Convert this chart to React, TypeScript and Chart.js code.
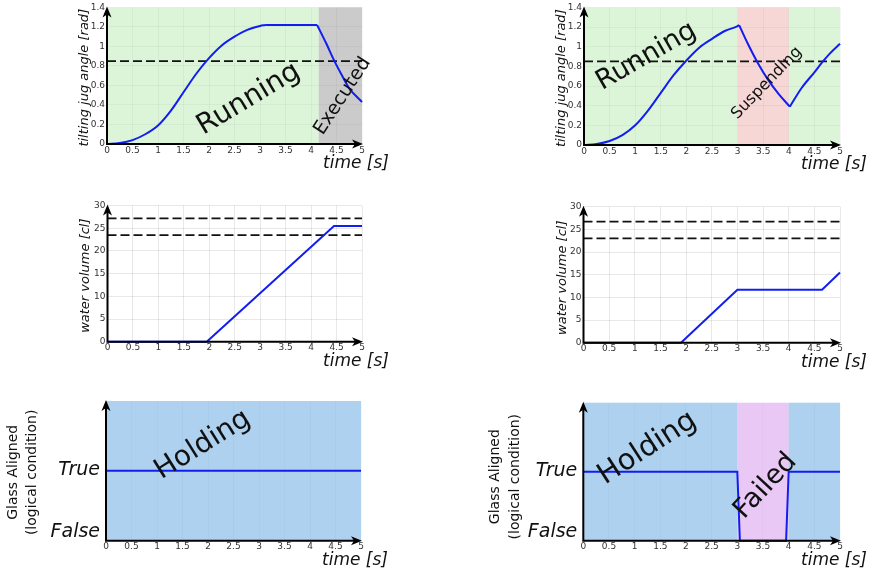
import React, { useEffect, useRef } from "react";
import { Chart, registerables } from "chart.js";

Chart.register(...registerables);

const FIG_W = 874;
const FIG_H = 573;
const FONT = "'DejaVu Sans', 'Liberation Sans', sans-serif";
const BLUE = "rgb(18,30,240)";

// ---------------- data ----------------
const timeTicks = [0, 0.5, 1, 1.5, 2, 2.5, 3, 3.5, 4, 4.5, 5];
const angleTicks = [0, 0.2, 0.4, 0.6, 0.8, 1, 1.2, 1.4];
const volumeTicks = [0, 5, 10, 15, 20, 25, 30];
const logicTicks = [0, 1];
const logicLabels = ["False", "True"];

// tilting angle, left scenario (Executed)
const angleRiseTimeA = [0, 0.25, 0.5, 0.75, 1, 1.25, 1.5, 1.75, 2, 2.25, 2.5, 2.75, 3, 3.1];
const angleRiseValuesA = [0, 0.01, 0.04, 0.1, 0.19, 0.34, 0.53, 0.72, 0.88, 1.01, 1.1, 1.17, 1.21, 1.22];
const angleHoldTimeA = [3.1, 4.12];
const angleHoldValuesA = [1.22, 1.22];
const angleFallTimeA = [4.12, 4.3, 4.45, 4.6, 4.75, 5];
const angleFallValuesA = [1.22, 1.03, 0.86, 0.71, 0.57, 0.43];
const angleThresholdA = [0.85];

// tilting angle, right scenario (Suspending)
const angleRiseTimeB = [0, 0.25, 0.5, 0.75, 1, 1.25, 1.5, 1.75, 2, 2.25, 2.5, 2.75, 3, 3.03];
const angleRiseValuesB = [0, 0.01, 0.04, 0.1, 0.2, 0.35, 0.53, 0.71, 0.86, 0.99, 1.08, 1.16, 1.21, 1.22];
const angleFallTimeB = [3.03, 3.2, 3.4, 3.6, 3.8, 4.02];
const angleFallValuesB = [1.22, 1.03, 0.83, 0.66, 0.52, 0.39];
const angleResumeTimeB = [4.02, 4.25, 4.5, 4.65, 4.8, 5];
const angleResumeValuesB = [0.39, 0.58, 0.74, 0.84, 0.93, 1.03];
const angleThresholdB = [0.85];

// water volume
const volumeTimeA = [0, 1.95, 4.45, 5];
const volumeValuesA = [0, 0, 25.5, 25.5];
const volumeLimitsA = [27.2, 23.5];
const volumeTimeB = [0, 1.9, 3.0, 4.65, 5];
const volumeValuesB = [0, 0, 11.7, 11.7, 15.5];
const volumeLimitsB = [26.7, 23.0];

// glass aligned (1 = True, 0 = False)
const glassTimeA = [0, 5];
const glassValuesA = [1, 1];
const glassTimeB = [0, 3.0, 3.05, 3.95, 4.0, 5];
const glassValuesB = [1, 1, 0, 0, 1, 1];

// phases
const phaseStartA = [0, 4.15];
const phaseEndA = [4.15, 5];
const phaseNameA = ["Running", "Executed"];
const phaseStartB = [0, 3.0, 4.0];
const phaseEndB = [3.0, 4.0, 5];
const phaseNameB = ["Running", "Suspending", ""];
const holdStartA = [0];
const holdEndA = [5];
const holdNameA = ["Holding"];
const holdStartB = [0, 3.0, 4.0];
const holdEndB = [3.0, 4.0, 5];
const holdNameB = ["Holding", "Failed", ""];

// ---------------- helpers ----------------
const zip = (xs: number[], ys: number[]) => xs.map((x, i) => ({ x, y: ys[i] }));

type TextSpec = { text: string; x: number; y: number; size: number; angle: number };
type Panel = {
  box: { left: number; top: number; right: number; bottom: number };
  yMin: number;
  yMax: number;
  yTicks: number[];
  logic?: boolean;
  series: { x: number[]; y: number[]; smooth?: boolean }[];
  dashed: number[];
  phases: { from: number; to: number; color: string }[];
  texts: TextSpec[];
  yTitle: string[];
  yTitleDx: number[];
  yTitleDy: number;
  yTitleFont: string;
  gridColor: string;
  yGrid: boolean;
};

const GREEN = "#dcf5d9";
const GREY = "#cbcbcb";
const PINK = "#f7d6d6";
const SKY = "#aed1f0";
const VIOLET = "#e9c8f5";

const makePhases = (s: number[], e: number[], colors: string[]) =>
  s.map((v, i) => ({ from: v, to: e[i], color: colors[i] }));

const panels: Panel[] = [
  {
    box: { left: 107, top: 5, right: 362, bottom: 144 },
    yMin: 0, yMax: 1.4, yTicks: angleTicks,
    series: [
      { x: angleRiseTimeA, y: angleRiseValuesA, smooth: true },
      { x: angleHoldTimeA, y: angleHoldValuesA },
      { x: angleFallTimeA, y: angleFallValuesA, smooth: true },
    ],
    dashed: angleThresholdA,
    phases: makePhases(phaseStartA, phaseEndA, [GREEN, GREY]),
    texts: [
      { text: phaseNameA[0], x: 2.78, y: 0.46, size: 28, angle: -31 },
      { text: phaseNameA[1], x: 4.62, y: 0.49, size: 19, angle: -57 },
    ],
    yTitle: ["tilting jug angle [rad]"], yTitleDx: [-22], yTitleDy: 2,
    yTitleFont: `italic 13px ${FONT}`, gridColor: "rgba(0,0,0,0.04)", yGrid: true,
  },
  {
    box: { left: 584, top: 6.5, right: 840, bottom: 145 },
    yMin: 0, yMax: 1.4, yTicks: angleTicks,
    series: [
      { x: angleRiseTimeB, y: angleRiseValuesB, smooth: true },
      { x: angleFallTimeB, y: angleFallValuesB, smooth: true },
      { x: angleResumeTimeB, y: angleResumeValuesB, smooth: true },
    ],
    dashed: angleThresholdB,
    phases: makePhases(phaseStartB, phaseEndB, [GREEN, PINK, GREEN]),
    texts: [
      { text: phaseNameB[0], x: 1.22, y: 0.9, size: 27, angle: -30 },
      { text: phaseNameB[1], x: 3.57, y: 0.63, size: 16, angle: -46 },
    ],
    yTitle: ["tilting jug angle [rad]"], yTitleDx: [-22], yTitleDy: 2,
    yTitleFont: `italic 13px ${FONT}`, gridColor: "rgba(0,0,0,0.04)", yGrid: true,
  },
  {
    box: { left: 107.5, top: 205.6, right: 362, bottom: 341.7 },
    yMin: 0, yMax: 30, yTicks: volumeTicks,
    series: [{ x: volumeTimeA, y: volumeValuesA }],
    dashed: volumeLimitsA,
    phases: [],
    texts: [],
    yTitle: ["water volume [cl]"], yTitleDx: [-21.5], yTitleDy: 2,
    yTitleFont: `italic 13px ${FONT}`, gridColor: "rgba(0,0,0,0.09)", yGrid: true,
  },
  {
    box: { left: 583.5, top: 206.7, right: 840, bottom: 342.7 },
    yMin: 0, yMax: 30, yTicks: volumeTicks,
    series: [{ x: volumeTimeB, y: volumeValuesB }],
    dashed: volumeLimitsB,
    phases: [],
    texts: [],
    yTitle: ["water volume [cl]"], yTitleDx: [-20.5], yTitleDy: 3,
    yTitleFont: `italic 13px ${FONT}`, gridColor: "rgba(0,0,0,0.09)", yGrid: true,
  },
  {
    box: { left: 106, top: 401, right: 361, bottom: 540.7 },
    yMin: 0, yMax: 2, yTicks: logicTicks, logic: true,
    series: [{ x: glassTimeA, y: glassValuesA }],
    dashed: [],
    phases: makePhases(holdStartA, holdEndA, [SKY]),
    texts: [{ text: holdNameA[0], x: 1.9, y: 1.37, size: 28, angle: -32 }],
    yTitle: ["Glass Aligned", "(logical condition)"], yTitleDx: [-93, -74], yTitleDy: 1.5,
    yTitleFont: `14px ${FONT}`, gridColor: "rgba(0,0,0,0.025)", yGrid: false,
  },
  {
    box: { left: 583.3, top: 402.7, right: 840, bottom: 540.7 },
    yMin: 0, yMax: 2, yTicks: logicTicks, logic: true,
    series: [{ x: glassTimeB, y: glassValuesB }],
    dashed: [],
    phases: makePhases(holdStartB, holdEndB, [SKY, VIOLET, SKY]),
    texts: [
      { text: holdNameB[0], x: 1.25, y: 1.34, size: 29, angle: -33 },
      { text: holdNameB[1], x: 3.55, y: 0.79, size: 27, angle: -47 },
    ],
    yTitle: ["Glass Aligned", "(logical condition)"], yTitleDx: [-88, -68], yTitleDy: 5,
    yTitleFont: `14px ${FONT}`, gridColor: "rgba(0,0,0,0.025)", yGrid: false,
  },
];

// ---------------- plugin ----------------
function arrowHead(ctx: CanvasRenderingContext2D, tx: number, ty: number, dir: "right" | "up") {
  ctx.beginPath();
  if (dir === "right") {
    ctx.moveTo(tx, ty);
    ctx.lineTo(tx - 11, ty - 4.5);
    ctx.lineTo(tx - 8, ty);
    ctx.lineTo(tx - 11, ty + 4.5);
  } else {
    ctx.moveTo(tx, ty);
    ctx.lineTo(tx - 4.5, ty + 11);
    ctx.lineTo(tx, ty + 8);
    ctx.lineTo(tx + 4.5, ty + 11);
  }
  ctx.closePath();
  ctx.fill();
}

const decorPlugin = {
  id: "decor",
  beforeDraw(chart: any, _args: any, opts: any) {
    const { ctx, chartArea: a } = chart;
    const xs = chart.scales.x;
    ctx.save();
    for (const ph of opts.phases || []) {
      const x0 = xs.getPixelForValue(ph.from);
      const x1 = xs.getPixelForValue(ph.to);
      ctx.fillStyle = ph.color;
      ctx.fillRect(x0, a.top, x1 - x0, a.bottom - a.top);
    }
    ctx.restore();
  },
  afterDraw(chart: any, _args: any, opts: any) {
    const { ctx, chartArea: a } = chart;
    const xs = chart.scales.x;
    const ys = chart.scales.y;
    ctx.save();
    // region labels
    ctx.fillStyle = "#111";
    ctx.textAlign = "center";
    ctx.textBaseline = "middle";
    for (const t of opts.texts || []) {
      ctx.save();
      ctx.translate(xs.getPixelForValue(t.x), ys.getPixelForValue(t.y));
      ctx.rotate((t.angle * Math.PI) / 180);
      ctx.font = `${t.size}px ${FONT}`;
      ctx.fillText(t.text, 0, 0);
      ctx.restore();
    }
    // axes with arrows
    ctx.strokeStyle = "#000";
    ctx.fillStyle = "#000";
    ctx.lineWidth = 2;
    ctx.beginPath();
    ctx.moveTo(a.left - 1, a.bottom);
    ctx.lineTo(a.right - 3, a.bottom);
    ctx.moveTo(a.left, a.bottom + 1);
    ctx.lineTo(a.left, a.top + 3);
    ctx.stroke();
    arrowHead(ctx, a.right + 1, a.bottom, "right");
    arrowHead(ctx, a.left, a.top - 1, "up");
    // x title
    ctx.fillStyle = "#111";
    ctx.font = `italic 17px ${FONT}`;
    ctx.textAlign = "left";
    ctx.textBaseline = "middle";
    ctx.fillText("time [s]", a.right - 39, a.bottom + 20);
    // y title
    ctx.font = opts.yTitleFont;
    ctx.textAlign = "center";
    const cy = (a.top + a.bottom) / 2 + opts.yTitleDy;
    opts.yTitle.forEach((line: string, i: number) => {
      ctx.save();
      ctx.translate(a.left + opts.yTitleDx[i], cy);
      ctx.rotate(-Math.PI / 2);
      ctx.fillText(line, 0, 0);
      ctx.restore();
    });
    // logic tick labels
    if (opts.logic) {
      ctx.font = `italic 19px ${FONT}`;
      ctx.textAlign = "right";
      logicTicks.forEach((v, i) => {
        const dy = v === 0 ? -9 : -1;
        ctx.fillText(logicLabels[i], a.left - 6, ys.getPixelForValue(v) + dy);
      });
    }
    ctx.restore();
  },
};

function buildConfig(p: Panel): any {
  const datasets: any[] = [];
  p.series.forEach((s) => {
    datasets.push({
      data: zip(s.x, s.y),
      borderColor: BLUE,
      borderWidth: 2,
      pointRadius: 0,
      fill: false,
      tension: 0,
      cubicInterpolationMode: s.smooth ? "monotone" : "default",
      clip: 3,
    });
  });
  p.dashed.forEach((v) => {
    datasets.push({
      data: [
        { x: timeTicks[0], y: v },
        { x: timeTicks[timeTicks.length - 1], y: v },
      ],
      borderColor: "#111",
      borderWidth: 1.8,
      borderDash: [9, 4],
      pointRadius: 0,
      fill: false,
    });
  });
  const tickFont = { family: FONT, size: 9 };
  return {
    type: "line",
    data: { datasets },
    plugins: [decorPlugin],
    options: {
      responsive: false,
      animation: false,
      devicePixelRatio: 1,
      events: [],
      layout: {
        padding: { left: 0, bottom: 0, top: p.box.top, right: FIG_W - p.box.right },
      },
      plugins: {
        legend: { display: false },
        tooltip: { enabled: false },
        decor: {
          phases: p.phases,
          texts: p.texts,
          yTitle: p.yTitle,
          yTitleDx: p.yTitleDx,
          yTitleDy: p.yTitleDy,
          yTitleFont: p.yTitleFont,
          logic: !!p.logic,
        },
      },
      scales: {
        x: {
          type: "linear",
          min: timeTicks[0],
          max: timeTicks[timeTicks.length - 1],
          afterBuildTicks: (s: any) => {
            s.ticks = timeTicks.map((v) => ({ value: v }));
          },
          afterFit: (s: any) => {
            s.height = FIG_H - p.box.bottom;
          },
          ticks: {
            autoSkip: false,
            maxRotation: 0,
            padding: 1,
            color: "#333",
            font: tickFont,
            callback: (v: any) => String(v),
          },
          grid: { color: p.gridColor, drawTicks: false },
          border: { display: false },
        },
        y: {
          type: "linear",
          min: p.yMin,
          max: p.yMax,
          afterBuildTicks: (s: any) => {
            s.ticks = p.yTicks.map((v) => ({ value: v }));
          },
          afterFit: (s: any) => {
            s.width = p.box.left;
          },
          ticks: {
            display: !p.logic,
            autoSkip: false,
            padding: 2,
            color: "#333",
            font: tickFont,
            callback: (v: any) => String(v),
          },
          grid: { display: p.yGrid, color: p.gridColor, drawTicks: false },
          border: { display: false },
        },
      },
    },
  };
}

function PanelChart({ panel }: { panel: Panel }) {
  const ref = useRef<HTMLCanvasElement>(null);
  useEffect(() => {
    const chart = new Chart(ref.current as HTMLCanvasElement, buildConfig(panel));
    return () => chart.destroy();
  }, [panel]);
  return (
    <canvas
      ref={ref}
      width={FIG_W}
      height={FIG_H}
      style={{ position: "absolute", left: 0, top: 0, width: FIG_W, height: FIG_H }}
    />
  );
}

export default function App() {
  return (
    <div
      style={{
        position: "fixed",
        left: 0,
        top: 0,
        width: FIG_W,
        height: FIG_H,
        background: "#fff",
        overflow: "hidden",
      }}
    >
      {panels.map((p, i) => (
        <PanelChart key={i} panel={p} />
      ))}
    </div>
  );
}
